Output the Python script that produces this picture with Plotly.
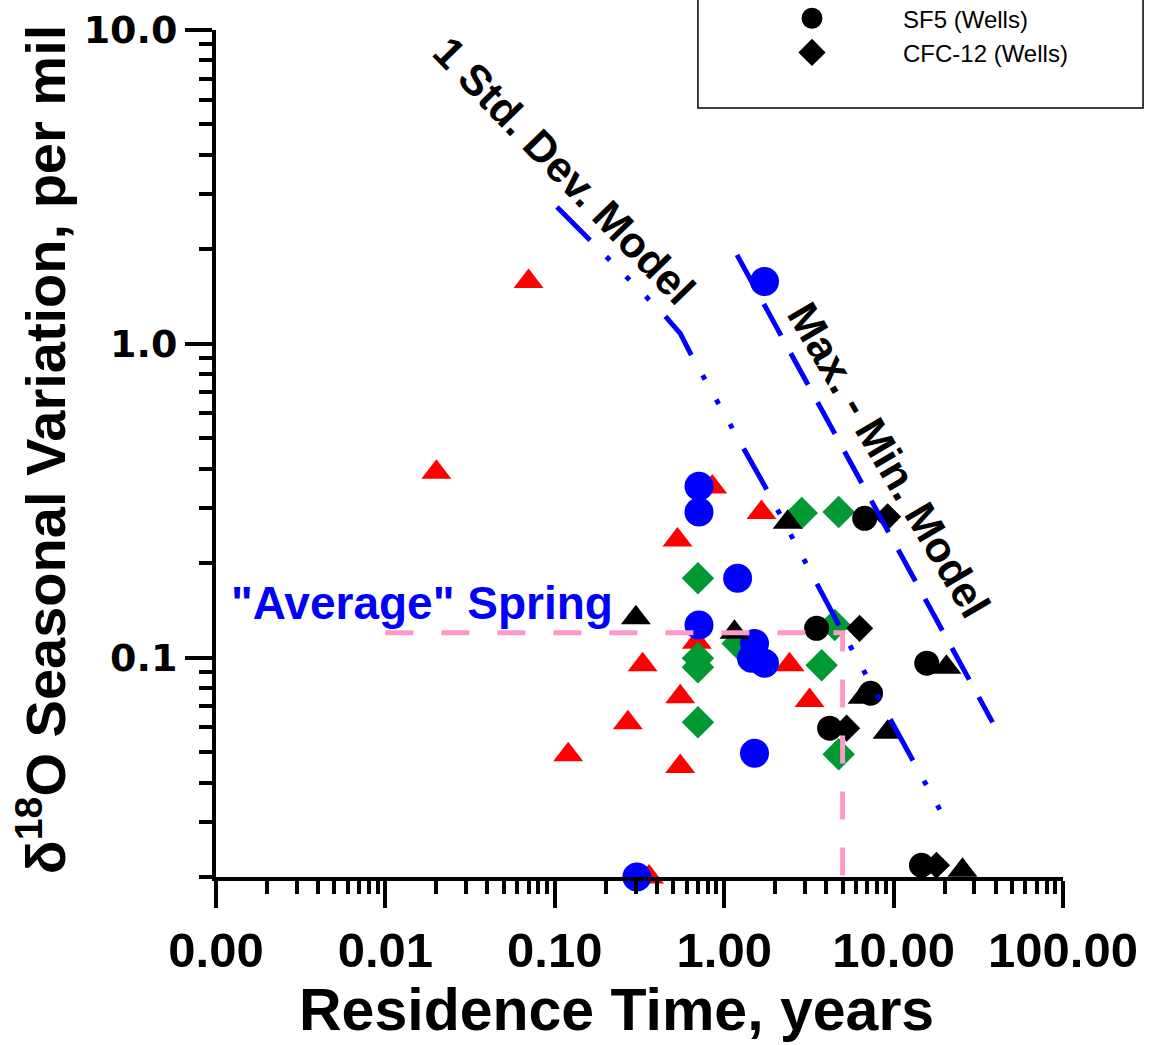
import numpy as np
import plotly.graph_objects as go

# Residence time (years) vs. seasonal d18O variation (per mil)
red_tri_x = [0.07, 0.02, 0.85, 1.66, 0.53, 0.69, 0.33, 2.43, 0.55, 3.19, 0.27, 0.12, 0.55, 0.36]
red_tri_y = [1.58, 0.39, 0.35, 0.29, 0.237, 0.112, 0.095, 0.095, 0.075, 0.073, 0.062, 0.049, 0.045, 0.02]

blue_x = [1.73, 0.71, 0.71, 1.20, 0.71, 1.51, 1.45, 1.73, 1.51, 0.305]
blue_y = [1.58, 0.352, 0.291, 0.179, 0.127, 0.111, 0.0995, 0.096, 0.0496, 0.02]

green_x = [2.87, 4.74, 0.70, 0.70, 0.70, 1.20, 4.49, 3.76, 0.70, 4.74]
green_y = [0.289, 0.291, 0.179, 0.0995, 0.0932, 0.111, 0.127, 0.0946, 0.0622, 0.0492]

sf5_x = [6.75, 3.51, 15.7, 7.31, 4.19, 14.6]
sf5_y = [0.278, 0.124, 0.096, 0.077, 0.0596, 0.0218]

cfc_x = [9.22, 6.30, 5.28, 17.9]
cfc_y = [0.281, 0.124, 0.0596, 0.0218]

blk_tri_x = [2.37, 0.301, 1.15, 20.5, 6.56, 9.22, 25.5]
blk_tri_y = [0.270, 0.134, 0.1205, 0.0932, 0.0748, 0.0578, 0.021]

# Model curves
std_x = [0.103, 0.44, 0.55, 0.64, 1.8, 5.2, 13.3, 19.2]
std_y = [2.73, 1.24, 1.08, 0.92, 0.34, 0.116, 0.046, 0.032]

maxmin_x = [1.19, 38.4]
maxmin_y = [1.92, 0.0622]

# "Average" spring guide
avg_x = [0.01, 5, 5]
avg_y = [0.12, 0.12, 0.02]

x_ticks = [0.001, 0.01, 0.1, 1, 10, 100]
x_ticktext = ["0.00", "0.01", "0.10", "1.00", "10.00", "100.00"]
y_ticks = [0.1, 1, 10]
y_ticktext = ["0.1", "1.0", "10.0"]

ARIAL = "Liberation Sans, Arial, sans-serif"

fig = go.Figure()


def markers(x, y, symbol, color, size, name, legend=False, rank=None, outline=0):
    fig.add_trace(go.Scatter(
        x=x, y=y, mode="markers", name=name, showlegend=legend,
        legendrank=rank if rank else 1000,
        cliponaxis=False,
        marker=dict(symbol=symbol, color=color, size=size,
                    line=dict(width=outline, color=color)),
    ))


markers(red_tri_x, red_tri_y, "triangle-up", "#FF0000", 26, "Red triangles")
markers(green_x, green_y, "diamond", "#009933", 25, "Green diamonds")
markers(blue_x, blue_y, "circle", "#0000FF", 29, "Blue circles")
markers(blk_tri_x, blk_tri_y, "triangle-up", "#000000", 26, "Black triangles")
# outlined so the legend keys keep a similar visual size
markers(cfc_x, cfc_y, "diamond", "#000000", 15.5, "CFC-12 (Wells)", True, 2, outline=5)
markers(sf5_x, sf5_y, "circle", "#000000", 20, "SF5 (Wells)", True, 1, outline=5)

fig.add_trace(go.Scatter(
    x=std_x, y=std_y, mode="lines", showlegend=False, name="1 Std. Dev. Model",
    line=dict(color="#0000FF", width=5,
              dash="47px,23px,5px,23px,5px,23px,5px,23px"),
))
fig.add_trace(go.Scatter(
    x=maxmin_x, y=maxmin_y, mode="lines", showlegend=False, name="Max. - Min. Model",
    line=dict(color="#0000FF", width=5, dash="36px,20px"),
))
fig.add_trace(go.Scatter(
    x=avg_x, y=avg_y, mode="lines", showlegend=False, name="Average spring",
    line=dict(color="#FF99CC", width=5, dash="28px,28px"),
))


def minor_vals(lo, hi):
    return [k * 10.0 ** d for d in range(lo, hi) for k in range(2, 10)]


axis_common = dict(
    type="log", showgrid=False, zeroline=False, showline=True,
    linecolor="black", linewidth=4, mirror=False,
    ticks="outside", ticklen=27, tickwidth=4, tickcolor="black",
    tickmode="array",
)

fig.update_xaxes(
    **axis_common, range=[-3, 2],
    tickvals=x_ticks, ticktext=x_ticktext,
    tickfont=dict(family=ARIAL, size=49, color="black", weight="bold"),
    minor=dict(ticks="outside", ticklen=13, tickwidth=3.5, tickcolor="black",
               tickmode="array", tickvals=minor_vals(-3, 2), showgrid=False),
)
fig.update_yaxes(
    **axis_common, range=[np.log10(0.02), 1],
    tickvals=y_ticks, ticktext=y_ticktext,
    tickfont=dict(family="DejaVu Sans, sans-serif", size=38, color="black", weight="bold"),
    minor=dict(ticks="outside", ticklen=13, tickwidth=3.5, tickcolor="black",
               tickmode="array", tickvals=minor_vals(-2, 1), showgrid=False),
)

annotations = [
    dict(text="δ<sup>18</sup>O Seasonal Variation, per mil", textangle=-90,
         x=-0.2054, y=0.504, font=dict(family=ARIAL, size=56, color="black", weight="bold")),
    dict(text="Residence Time, years",
         x=0.4734, y=-0.157, font=dict(family=ARIAL, size=59, color="black", weight="bold")),
    dict(text="1 Std. Dev. Model", textangle=45.8,
         x=0.412, y=0.834, font=dict(family=ARIAL, size=43, color="black", weight="bold")),
    dict(text="Max. - Min. Model", textangle=59.6,
         x=0.7946, y=0.4923, font=dict(family=ARIAL, size=43, color="black", weight="bold")),
    dict(text="\"Average\" Spring",
         x=0.2432, y=0.3235, font=dict(family=ARIAL, size=46, color="#0000FF", weight="bold")),
]
for a in annotations:
    a.update(xref="paper", yref="paper", showarrow=False, xanchor="center", yanchor="middle")

fig.update_layout(
    width=1153, height=1045,
    margin=dict(l=216, r=90, t=30, b=168, autoexpand=False),
    plot_bgcolor="white", paper_bgcolor="white",
    annotations=annotations,
    showlegend=True,
    legend=dict(
        x=0.5962, y=1.04, xanchor="left", yanchor="top",
        bgcolor="rgba(0,0,0,0)", borderwidth=0,
        font=dict(family=ARIAL, size=24, color="black"),
        itemwidth=172, itemsizing="trace",
    ),
    shapes=[dict(type="rect", xref="paper", yref="paper",
                 x0=0.569, x1=1.0945, y0=0.908, y1=1.06,
                 line=dict(color="black", width=1.5), fillcolor="rgba(0,0,0,0)")],
)

fig.write_html("out.html")
